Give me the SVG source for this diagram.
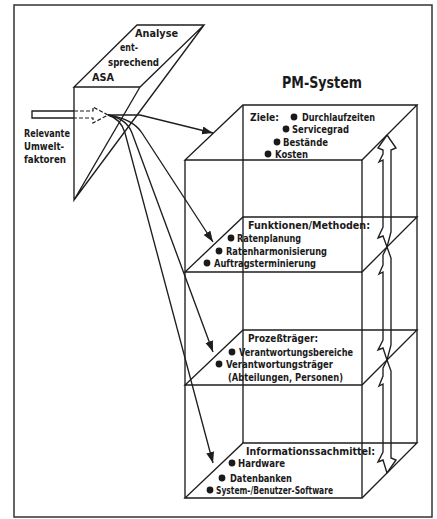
<svg xmlns="http://www.w3.org/2000/svg" width="437" height="519" viewBox="0 0 437 519">
<style>
.t{font-family:"DejaVu Sans Condensed","Liberation Sans",sans-serif;font-weight:bold;font-size:11px;fill:#1a1a1a}
.s{font-size:10.5px}
.ln{fill:none;stroke:#1e1e1e;stroke-width:1.35;stroke-linejoin:miter}
.ds{fill:none;stroke:#1e1e1e;stroke-width:1.2;stroke-dasharray:4 2}
.b{fill:#1a1a1a}
</style>
<defs>
<marker id="ah" markerUnits="userSpaceOnUse" markerWidth="12" markerHeight="10" refX="11" refY="4" orient="auto">
<path d="M0,0 L11,4 L0,8 Z" fill="#1e1e1e"/>
</marker>
</defs>
<rect x="14" y="5" width="418" height="512" fill="#fff" stroke="#333" stroke-width="1.5"/>

<g id="asa">
<path class="ln" d="M137,25 L204,25 L140,87 L74,87 Z M74,87 L74,200 L140,87 M204,25 L74,200"/>
<text class="t" x="135" y="37" textLength="43" lengthAdjust="spacingAndGlyphs">Analyse</text>
<text class="t" x="120" y="51" textLength="18" lengthAdjust="spacingAndGlyphs">ent-</text>
<text class="t" x="108" y="66" textLength="51" lengthAdjust="spacingAndGlyphs">sprechend</text>
<text class="t" x="92" y="81" textLength="22" lengthAdjust="spacingAndGlyphs">ASA</text>
</g>

<g id="umwelt">
<path class="ln" d="M74,111 L32,111 L32,118 L74,118"/>
<path class="ds" d="M74,111 L93,111 L93,107 L108,115 L93,123 L93,118 L74,118"/>
<text class="t" x="24" y="137" textLength="46" lengthAdjust="spacingAndGlyphs">Relevante</text>
<text class="t" x="24" y="150" textLength="40" lengthAdjust="spacingAndGlyphs">Umwelt-</text>
<text class="t" x="24" y="163" textLength="42" lengthAdjust="spacingAndGlyphs">faktoren</text>
</g>

<text class="t" x="282" y="88" style="font-size:16px" textLength="80" lengthAdjust="spacingAndGlyphs">PM-System</text>

<g id="pm-box">
<path class="ln" d="M185,160 L185,498 M362,160 L362,498 M243,105 L243,443 M417,105 L417,443"/>
</g>

<g id="ziele">
<path class="ln" d="M185,160 L362,160 L417,105 L243,105 Z"/>
<text class="t" x="250" y="121" textLength="29" lengthAdjust="spacingAndGlyphs">Ziele:</text>
<circle class="b" cx="294" cy="117" r="3.4"/><text class="t s" x="302" y="121" textLength="73" lengthAdjust="spacingAndGlyphs">Durchlaufzeiten</text>
<circle class="b" cx="286" cy="129" r="3.4"/><text class="t s" x="292" y="133" textLength="57" lengthAdjust="spacingAndGlyphs">Servicegrad</text>
<circle class="b" cx="277" cy="142" r="3.4"/><text class="t s" x="283" y="146" textLength="45" lengthAdjust="spacingAndGlyphs">Bestände</text>
<circle class="b" cx="268" cy="154" r="3.4"/><text class="t s" x="275" y="158" textLength="33" lengthAdjust="spacingAndGlyphs">Kosten</text>
</g>

<g id="funktionen">
<path class="ln" d="M185,272 L362,272 L417,217 L243,217 Z"/>
<text class="t" x="248" y="229" textLength="122" lengthAdjust="spacingAndGlyphs">Funktionen/Methoden:</text>
<circle class="b" cx="231" cy="238" r="3.4"/><text class="t" x="237" y="242" textLength="64" lengthAdjust="spacingAndGlyphs">Ratenplanung</text>
<circle class="b" cx="219" cy="251" r="3.4"/><text class="t" x="226" y="255" textLength="101" lengthAdjust="spacingAndGlyphs">Ratenharmonisierung</text>
<circle class="b" cx="207" cy="263" r="3.4"/><text class="t" x="214" y="267" textLength="102" lengthAdjust="spacingAndGlyphs">Auftragsterminierung</text>
</g>

<g id="prozesstraeger">
<path class="ln" d="M185,385 L362,385 L417,330 L243,330 Z"/>
<text class="t" x="248" y="342" textLength="70" lengthAdjust="spacingAndGlyphs">Prozeßträger:</text>
<circle class="b" cx="232" cy="352" r="3.4"/><text class="t" x="239" y="356" textLength="114" lengthAdjust="spacingAndGlyphs">Verantwortungsbereiche</text>
<circle class="b" cx="219" cy="364" r="3.4"/><text class="t" x="226" y="368" textLength="107" lengthAdjust="spacingAndGlyphs">Verantwortungsträger</text>
<text class="t" x="228" y="381" textLength="115" lengthAdjust="spacingAndGlyphs">(Abteilungen, Personen)</text>
</g>

<g id="informationssachmittel">
<path class="ln" d="M185,498 L362,498 L417,443 L243,443 Z"/>
<text class="t" x="246" y="455" textLength="129" lengthAdjust="spacingAndGlyphs">Informationssachmittel:</text>
<circle class="b" cx="232" cy="463" r="3.4"/><text class="t" x="238" y="467" textLength="47" lengthAdjust="spacingAndGlyphs">Hardware</text>
<circle class="b" cx="222" cy="478" r="3.4"/><text class="t" x="230" y="482" textLength="62" lengthAdjust="spacingAndGlyphs">Datenbanken</text>
<circle class="b" cx="210" cy="490" r="3.4"/><text class="t" x="216" y="494" textLength="117" lengthAdjust="spacingAndGlyphs">System-/Benutzer-Software</text>
</g>

<g id="connectors">
<path class="ln" marker-end="url(#ah)" d="M108,115 L140,115 L213,133"/>
<path class="ln" marker-end="url(#ah)" d="M108,115 Q133,119 142,133 L213,242"/>
<path class="ln" marker-end="url(#ah)" d="M108,115 Q127,119 132,133 L213,352"/>
<path class="ln" marker-end="url(#ah)" d="M108,115 Q121,119 125,133 L213,463"/>
<g id="rueckkopplung">
<path class="ln" d="M387,135 L378,148 L383,150 L383,154 L379,162 L383,160 L383,227 L378,238 L383,236 L387,247 L383,255 L383,265 L379,274 L383,272 L383,340 L378,350 L383,348 L387,360 L383,368 L383,376 L379,386 L383,384 L383,452 L378,462 L383,460 L387,473"/>
<path class="ln" d="M387,135 L396,148 L391,150 L391,232 L387,247 L391,258 L391,345 L387,360 L391,371 L391,458 L396,460 L387,473"/>
</g>
</g>
</svg>
